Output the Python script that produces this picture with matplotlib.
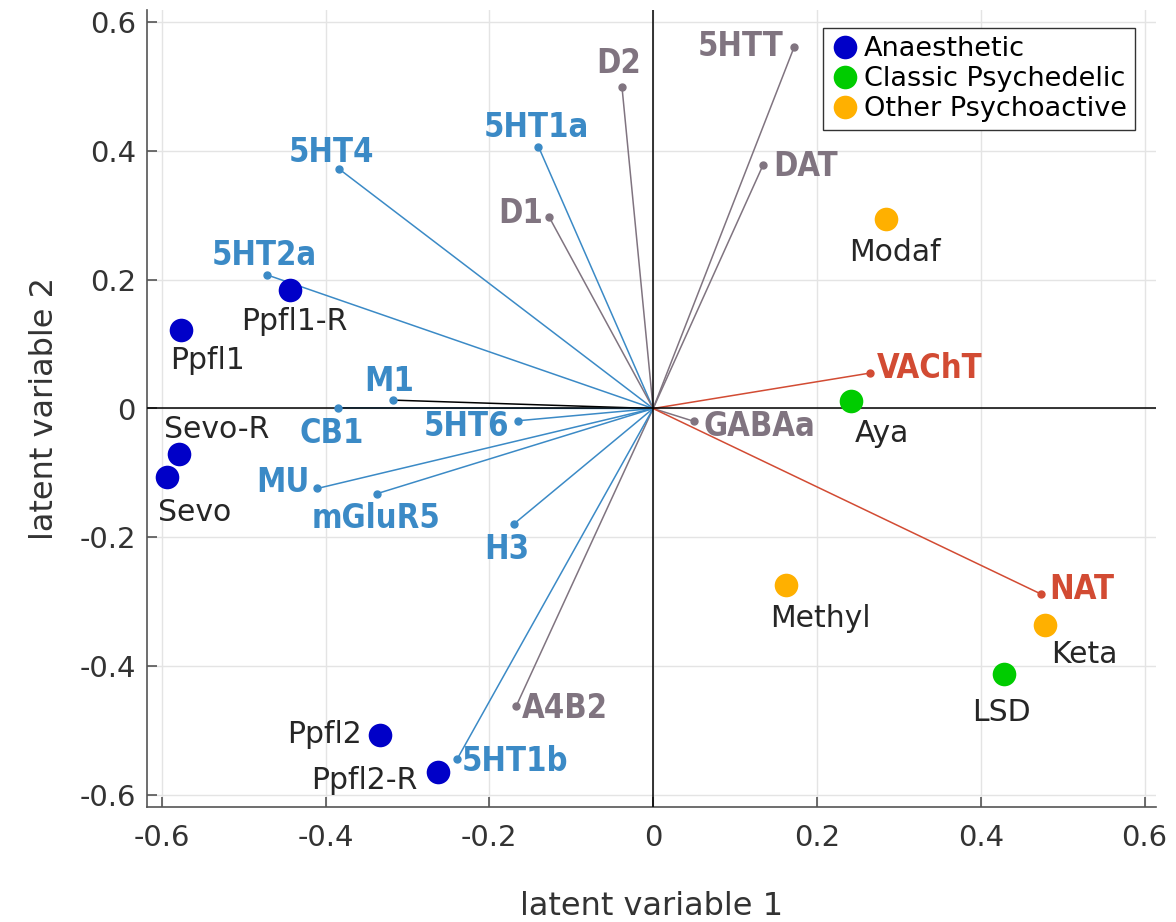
import numpy as np
from matplotlib import pyplot as plt
from matplotlib.lines import Line2D
from matplotlib import font_manager

plt.rcParams['font.family'] = ['DejaVu Sans']
plt.rcParams['axes.unicode_minus'] = False

# receptor loadings (latent variable 1, latent variable 2)
receptors = ["D2", "5HT1a", "5HT4", "D1", "5HT2a", "M1", "CB1", "5HTT", "DAT",
             "VAChT", "5HT6", "MU", "mGluR5", "H3", "A4B2", "5HT1b", "GABAa", "NAT"]
rec_x = [-0.038, -0.140, -0.383, -0.127, -0.471, -0.318, -0.385, 0.172, 0.134,
         0.265, -0.165, -0.410, -0.337, -0.170, -0.167, -0.239, 0.050, 0.474]
rec_y = [0.498, 0.406, 0.371, 0.297, 0.207, 0.013, 0.001, 0.560, 0.377,
         0.055, -0.019, -0.124, -0.132, -0.179, -0.461, -0.543, -0.020, -0.288]
rec_group = ["g", "b", "b", "g", "b", "b", "b", "g", "g",
             "r", "b", "b", "b", "b", "g", "b", "g", "r"]

# drug scores
drugs = ["Ppfl1", "Ppfl1-R", "Sevo-R", "Sevo", "Ppfl2", "Ppfl2-R",
         "Aya", "LSD", "Modaf", "Methyl", "Keta"]
drug_x = [-0.576, -0.444, -0.579, -0.593, -0.334, -0.263,
          0.241, 0.429, 0.284, 0.162, 0.478]
drug_y = [0.122, 0.184, -0.071, -0.106, -0.506, -0.563,
          0.011, -0.412, 0.294, -0.273, -0.335]
drug_class = ["Anaesthetic"] * 6 + ["Classic Psychedelic"] * 2 + ["Other Psychoactive"] * 3

classes = ["Anaesthetic", "Classic Psychedelic", "Other Psychoactive"]
class_colors = {"Anaesthetic": "#0000c8", "Classic Psychedelic": "#00cc00",
                "Other Psychoactive": "#ffb000"}
rec_colors = {"b": "#3b8ac6", "g": "#807480", "r": "#d24b33"}

# label offsets in pixels (dx, dy) of the label centre from the point
rec_off = {"D2": (-3, 26), "5HT1a": (-2, 22), "5HT4": (-8, 19), "D1": (-28, 6),
           "5HT2a": (-3, 22), "M1": (-4, 21), "CB1": (-6, -23), "5HTT": (-53, 3),
           "DAT": (43, 1), "VAChT": (60, 7), "5HT6": (-52, -3), "MU": (-34, 8),
           "mGluR5": (-1, -22), "H3": (-7, -23), "A4B2": (48, 0), "5HT1b": (58, 0),
           "GABAa": (65, -3), "NAT": (40, 7)}
drug_off = {"Ppfl1": (26, -28), "Ppfl1-R": (5, -29), "Sevo-R": (38, 27),
            "Sevo": (27, -33), "Ppfl2": (-55, 3), "Ppfl2-R": (-73, -6),
            "Aya": (31, -30), "LSD": (-3, -36), "Modaf": (9, -31),
            "Methyl": (35, -31), "Keta": (40, -27)}

# narrow bold face for the receptor names
cond = font_manager.findfont(font_manager.FontProperties(
    family="DejaVu Sans", stretch="condensed", weight="bold"))
if "Condensed" in cond:
    rec_font = dict(family="DejaVu Sans", stretch="condensed", fontsize=23.5)
    cap = 12
else:
    rec_font = dict(family="Roboto", fontsize=24.5)
    cap = 12.5

fig = plt.figure(figsize=(11.76, 9.22), dpi=100)
ax = fig.add_axes([147 / 1176, 115 / 922, 1009 / 1176, 797 / 922])

ax.set_xlim(-0.618, 0.614)
ax.set_ylim(-0.618, 0.618)
ticks = [-0.6, -0.4, -0.2, 0, 0.2, 0.4, 0.6]
ticklabels = ["-0.6", "-0.4", "-0.2", "0", "0.2", "0.4", "0.6"]
ax.set_xticks(ticks, ticklabels)
ax.set_yticks(ticks, ticklabels)
ax.grid(True, color="#e4e4e4", linewidth=1.0)
ax.set_axisbelow(True)
for s in ["top", "right"]:
    ax.spines[s].set_visible(False)
for s in ["left", "bottom"]:
    ax.spines[s].set_color("#555555")
    ax.spines[s].set_linewidth(1.2)
ax.tick_params(direction="in", length=7, width=1.2, color="#555555",
               labelsize=21, labelcolor="#333333")
ax.tick_params(axis="x", pad=12)
ax.tick_params(axis="y", pad=8)

ax.axhline(0, color="black", linewidth=1.1, zorder=3)
ax.axvline(0, color="black", linewidth=1.1, zorder=3)

# loadings
for i, name in enumerate(receptors):
    c = rec_colors[rec_group[i]]
    lc = "black" if name == "M1" else c
    ax.plot([0, rec_x[i]], [0, rec_y[i]], color=lc, linewidth=1.1, zorder=2)
    ax.plot(rec_x[i], rec_y[i], "o", color=c, markersize=5, zorder=4)
    dx, dy = rec_off[name]
    ax.annotate(name, (rec_x[i], rec_y[i]), xytext=(dx, dy - cap),
                textcoords="offset pixels", ha="center", va="baseline",
                fontweight="bold", color=c, zorder=5, **rec_font)

# drug scores
for i, name in enumerate(drugs):
    ax.plot(drug_x[i], drug_y[i], "o", color=class_colors[drug_class[i]],
            markersize=17, markeredgewidth=0, zorder=6)
    dx, dy = drug_off[name]
    ax.annotate(name, (drug_x[i], drug_y[i]), xytext=(dx, dy - 11),
                textcoords="offset pixels", ha="center", va="baseline",
                fontsize=21.5, color="#262626", zorder=5)

handles = [Line2D([], [], linestyle="none", marker="o", markersize=17,
                  markeredgewidth=0, color=class_colors[c]) for c in classes]
leg = ax.legend(handles, classes, loc="upper right",
                bbox_to_anchor=(1135 / 1176, 1 - 28 / 922),
                bbox_transform=fig.transFigure, borderaxespad=0,
                fontsize=19.5, handlelength=1.0, handletextpad=0.2,
                labelspacing=0.15, borderpad=0.3, fancybox=False,
                framealpha=1, edgecolor="#333333")
leg.get_frame().set_linewidth(1.0)

ax.set_xlabel("latent variable 1", fontsize=23, color="#333333", labelpad=28)
ax.set_ylabel("latent variable 2", fontsize=23, color="#333333", labelpad=14)

plt.savefig("out.png", dpi=100)
